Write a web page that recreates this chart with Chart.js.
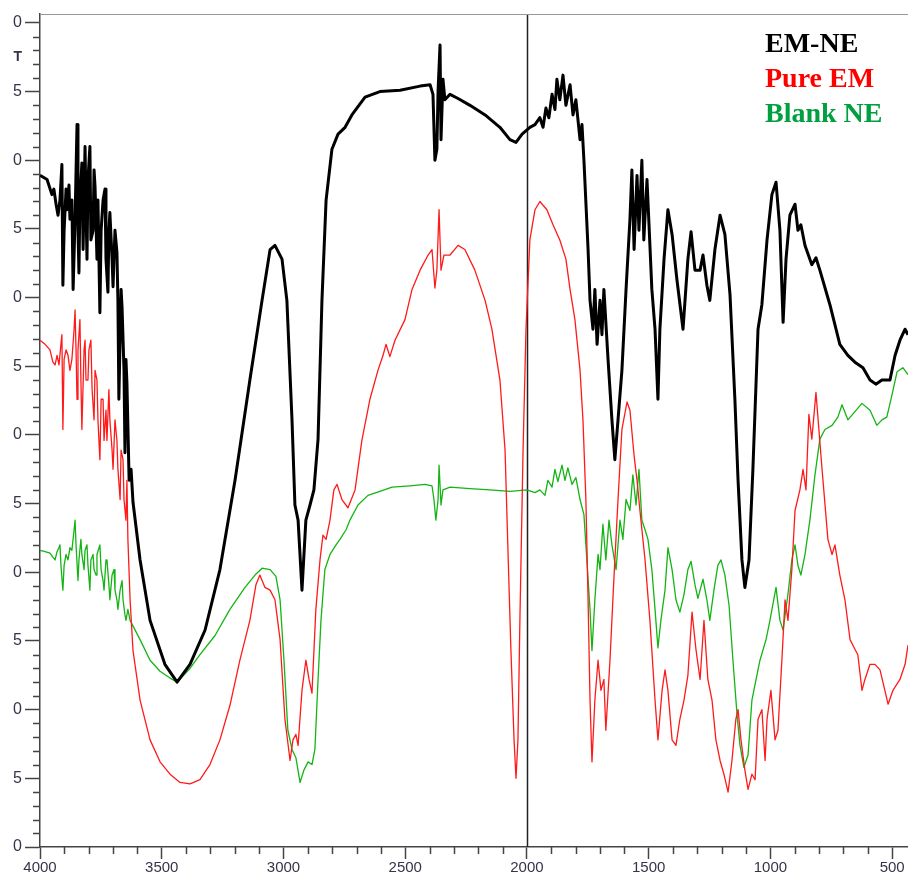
<!DOCTYPE html>
<html>
<head>
<meta charset="utf-8">
<script src="https://cdn.jsdelivr.net/npm/chart.js@4"></script>
<style>
  html, body { margin: 0; padding: 0; background: #fff; }
  #wrap { width: 908px; height: 882px; }
</style>
</head>
<body>
<div id="wrap"><canvas id="ftir" width="908" height="882"></canvas></div>
<script>
// FTIR spectra: wavenumber (cm-1) vs transmittance (%T)

const emneWave = [4000,3971,3951,3943,3934,3926,3918,3910,3906,3901,3893,3889,3881,3877,3869,3864,3856,3848,3844,3840,3836,3828,3823,3815,3811,3807,3803,3795,3791,3782,3778,3774,3766,3762,3754,3749,3741,3733,3729,3721,3717,3713,3704,3700,3692,3684,3680,3676,3667,3663,3655,3651,3647,3643,3634,3626,3618,3589,3548,3487,3437,3384,3322,3261,3199,3138,3088,3055,3035,3006,2986,2965,2953,2940,2924,2908,2891,2875,2858,2842,2825,2801,2776,2747,2719,2665,2604,2521,2439,2398,2386,2378,2370,2365,2357,2353,2345,2337,2316,2283,2234,2172,2111,2070,2045,2020,1988,1967,1947,1934,1922,1910,1897,1885,1877,1865,1852,1840,1823,1811,1799,1782,1774,1766,1749,1741,1729,1721,1712,1700,1692,1684,1667,1651,1639,1626,1610,1593,1577,1569,1560,1548,1540,1528,1520,1507,1495,1487,1474,1462,1454,1437,1421,1404,1384,1359,1339,1326,1310,1289,1277,1261,1249,1228,1207,1187,1166,1146,1133,1117,1105,1088,1072,1051,1035,1014,994,977,961,948,936,920,899,887,875,858,830,813,797,756,715,682,653,620,591,567,542,509,488,468,447,435];
const emneT = [88.9,88.6,87.5,87.9,86.8,86.0,87.1,89.7,80.9,84.9,87.9,86.4,88.2,85.7,87.1,80.6,85.7,92.6,84.9,81.8,87.1,89.8,83.5,91.0,86.4,82.8,88.6,91.0,84.2,84.9,89.3,88.1,82.8,87.1,78.9,84.9,87.1,87.9,82.8,80.4,84.9,86.2,82.8,80.8,84.9,83.3,79.8,72.6,80.6,79.3,74.7,68.7,75.5,73.8,66.7,67.5,65.1,60.9,56.5,53.3,52.0,53.3,55.8,60.2,66.7,74.0,79.8,83.5,83.8,82.8,79.8,71.1,64.9,63.8,58.7,63.8,64.9,66.0,69.7,79.8,87.1,90.8,91.9,92.4,93.3,94.6,95.0,95.1,95.4,95.5,94.8,90.0,90.8,95.1,98.4,91.5,95.9,94.4,94.8,94.5,94.0,93.3,92.4,91.5,91.3,91.9,92.4,92.6,93.1,92.4,93.8,93.1,94.8,93.7,95.9,94.4,96.2,94.0,95.5,93.3,94.4,91.5,92.6,90.0,83.5,79.8,77.7,80.6,76.6,79.8,77.3,80.6,75.5,71.1,68.2,71.1,74.7,80.6,85.7,89.3,83.5,88.9,84.9,90.0,84.2,88.6,83.8,80.6,77.7,72.6,77.7,82.8,86.4,84.6,81.3,77.7,82.8,84.8,82.0,82.0,83.1,80.9,79.8,83.5,86.0,84.6,80.2,72.6,66.7,60.9,58.9,60.9,67.5,77.7,79.5,84.2,87.5,88.4,84.9,78.2,82.8,86.0,86.8,84.9,85.3,83.8,82.4,82.9,82.0,79.5,76.6,75.8,75.3,74.9,74.0,73.7,74.0,74.0,75.8,76.9,77.7,77.3];

const pureWave = [4000,3979,3959,3947,3938,3930,3922,3914,3910,3906,3901,3893,3885,3877,3869,3860,3856,3852,3848,3844,3836,3832,3828,3819,3815,3811,3803,3799,3791,3786,3778,3774,3766,3762,3754,3749,3741,3737,3729,3725,3717,3713,3704,3700,3692,3684,3680,3671,3667,3659,3655,3647,3643,3639,3630,3618,3589,3548,3507,3466,3425,3384,3343,3302,3261,3220,3179,3138,3113,3097,3076,3055,3035,3014,2994,2973,2961,2949,2940,2924,2908,2895,2883,2867,2850,2838,2825,2809,2793,2780,2760,2735,2706,2678,2645,2612,2591,2579,2563,2542,2501,2472,2439,2406,2390,2378,2370,2361,2353,2341,2316,2283,2255,2214,2172,2144,2111,2090,2078,2066,2053,2045,2037,2029,2016,2004,1988,1967,1947,1918,1893,1865,1840,1823,1803,1782,1770,1758,1749,1741,1733,1721,1708,1696,1684,1676,1659,1643,1626,1610,1589,1577,1560,1548,1536,1515,1495,1474,1462,1445,1433,1421,1404,1388,1372,1355,1339,1322,1306,1289,1273,1257,1240,1224,1207,1191,1174,1158,1142,1133,1121,1105,1092,1076,1063,1051,1035,1022,1014,998,981,969,953,940,928,912,899,879,866,854,842,830,813,801,788,764,747,735,715,694,673,653,641,624,612,591,571,550,530,517,497,468,447,435];
const pureT = [76.9,76.6,76.2,75.3,75.1,75.8,75.1,76.6,77.3,70.4,75.5,76.2,75.8,74.7,75.5,77.7,79.1,76.2,72.6,76.2,78.4,74.0,70.4,76.2,76.9,74.0,74.0,76.2,76.9,73.3,71.1,74.7,74.0,71.1,68.2,72.6,72.6,69.6,71.8,69.6,73.3,71.1,68.9,67.5,71.1,69.6,67.5,65.3,68.9,68.2,65.3,63.8,66.7,62.4,58.0,54.3,50.7,47.8,46.2,45.3,44.7,44.6,44.9,46.0,47.8,50.3,53.6,56.5,59.1,59.8,58.9,58.7,58.0,55.1,49.3,46.3,47.8,48.2,47.4,51.4,53.6,52.2,51.2,57.3,60.9,62.7,62.4,63.8,66.0,66.4,65.3,64.7,66.0,69.6,72.6,74.7,75.8,76.6,75.7,76.9,78.4,80.6,82.0,83.1,83.5,80.7,82.0,86.4,82.0,83.1,83.1,83.8,83.5,82.0,79.8,77.7,74.0,68.9,61.6,54.4,47.8,45.0,47.8,56.5,68.9,77.7,84.2,86.4,87.0,86.4,85.3,84.2,82.8,80.6,78.4,74.7,71.1,65.3,58.0,50.7,46.2,50.7,53.6,51.4,52.2,48.5,53.6,59.5,65.3,70.4,72.4,71.8,68.5,66.7,64.5,60.9,56.5,50.7,47.8,51.4,52.9,51.4,47.8,47.4,49.3,50.7,52.5,57.1,54.4,52.2,56.5,52.2,50.7,47.8,46.3,45.3,44.0,46.3,49.3,50.0,47.8,45.6,44.2,45.3,44.9,49.3,50.0,46.3,49.3,51.4,47.8,48.5,53.6,58.0,56.5,60.2,64.5,66.0,67.5,66.0,71.5,69.7,73.1,70.4,67.5,62.4,61.3,62.0,59.8,58.0,55.1,54.4,54.0,51.4,52.2,53.3,53.3,52.9,51.4,50.4,51.4,52.2,53.3,54.7];

const blankWave = [4000,3979,3959,3947,3938,3930,3922,3918,3914,3906,3901,3893,3885,3877,3869,3860,3856,3852,3844,3840,3832,3828,3819,3815,3807,3803,3795,3791,3782,3778,3770,3766,3754,3749,3741,3737,3729,3725,3717,3713,3704,3696,3692,3684,3680,3671,3663,3659,3651,3647,3639,3630,3589,3548,3507,3466,3437,3384,3343,3281,3220,3158,3117,3088,3055,3031,3014,2998,2982,2965,2949,2932,2916,2899,2883,2871,2858,2846,2830,2809,2784,2768,2743,2727,2694,2653,2604,2554,2480,2419,2390,2382,2374,2365,2361,2353,2345,2316,2234,2152,2070,2000,1967,1947,1926,1914,1897,1885,1873,1856,1844,1832,1815,1799,1782,1766,1754,1741,1733,1721,1708,1700,1688,1676,1663,1651,1634,1618,1606,1593,1577,1565,1552,1540,1528,1515,1503,1487,1474,1462,1450,1433,1421,1404,1388,1372,1355,1339,1326,1310,1298,1277,1261,1249,1232,1216,1203,1187,1170,1154,1137,1125,1109,1092,1076,1059,1043,1018,1002,977,961,948,928,912,899,887,875,858,838,817,797,776,747,723,706,682,653,624,591,563,542,522,501,480,456,435];
const blankT = [61.6,61.5,61.4,61.1,60.9,61.5,61.8,62.0,60.5,58.7,60.5,61.3,60.9,61.8,61.6,63.1,63.8,62.0,59.4,60.9,62.4,61.3,60.2,61.6,62.0,60.5,58.7,60.9,61.3,60.2,59.8,61.3,62.0,60.2,59.4,58.7,60.9,60.9,59.1,58.0,59.8,60.2,58.7,58.0,57.3,58.7,59.4,58.0,56.9,56.5,57.3,56.5,55.1,53.6,52.8,52.3,52.0,53.0,54.0,55.4,57.3,58.9,59.8,60.3,60.2,59.7,58.0,53.6,48.5,47.1,46.5,44.7,45.6,46.2,46.0,47.1,52.2,56.5,60.2,61.3,62.0,62.4,63.1,63.8,64.9,65.6,65.9,66.2,66.3,66.4,66.3,65.3,63.8,65.3,67.8,64.9,66.0,66.2,66.1,66.0,65.9,66.0,65.8,66.0,65.6,66.7,66.2,67.5,66.6,67.8,66.7,67.6,66.4,66.9,65.3,64.2,60.9,57.3,54.3,58.0,61.3,60.2,63.5,60.9,63.8,62.0,60.2,63.8,62.4,65.3,64.5,67.1,64.9,67.5,63.8,63.1,62.4,60.2,57.3,54.5,56.5,58.7,61.8,60.2,58.0,57.1,58.4,60.2,60.8,59.1,58.1,59.5,58.0,56.5,58.7,60.5,60.9,59.8,57.6,53.6,49.6,47.4,45.8,46.7,50.7,52.2,53.6,55.1,56.5,58.9,56.5,55.8,58.4,60.9,62.0,60.5,59.8,61.3,63.8,67.1,69.7,70.4,70.7,71.3,72.2,71.1,71.7,72.3,71.8,70.7,71.1,71.3,72.9,74.6,74.9,74.4];

const seriesNames = ['EM-NE', 'Pure EM', 'Blank NE'];
const lineColors = ['#000000', '#ff1a1a', '#14b414'];
const nameColors = ['#000000', '#ff0000', '#00a040'];

const waveRange = [435, 4000];
const transRange = [40, 100.65];
const xMajorStep = 500, xMinorStep = 100;
const yMajorStep = 5, yMinorStep = 1;
const markerWave = 2000;

const toPoints = (w, t) => w.map((v, i) => ({ x: v, y: t[i] }));

// fixed tick values, stepping from the first multiple inside the range
const stepTicks = (lo, hi, step) => {
  const out = [];
  for (let v = Math.ceil(lo / step) * step; v <= hi; v += step) out.push({ value: v });
  return out;
};

const axisInk = '#444';
const labelInk = '#35354a';

// minor ticks, top frame, 2000 cm-1 marker, "T" and the legend text
const decor = {
  id: 'decor',
  beforeDatasetsDraw(chart) {
    const { ctx, chartArea: a, scales: { x } } = chart;
    const px = Math.round(x.getPixelForValue(markerWave)) + 0.5;
    ctx.save();
    ctx.strokeStyle = '#222';
    ctx.lineWidth = 1.5;
    ctx.beginPath();
    ctx.moveTo(px, a.top);
    ctx.lineTo(px, a.bottom);
    ctx.stroke();
    ctx.restore();
  },
  afterDraw(chart) {
    const { ctx, chartArea: a, scales: { x, y } } = chart;
    ctx.save();
    ctx.strokeStyle = '#999';
    ctx.lineWidth = 1;
    ctx.beginPath();
    ctx.moveTo(a.left, a.top + 0.5);
    ctx.lineTo(a.right, a.top + 0.5);
    ctx.stroke();

    ctx.strokeStyle = axisInk;
    ctx.lineWidth = 1.5;
    ctx.beginPath();
    for (let v = transRange[0]; v <= transRange[1]; v += yMinorStep) {
      if (v % yMajorStep === 0) continue;
      const py = Math.round(y.getPixelForValue(v)) + 0.5;
      ctx.moveTo(a.left - 7, py);
      ctx.lineTo(a.left, py);
    }
    for (let w = xMajorStep; w <= waveRange[1]; w += xMinorStep) {
      if (w % xMajorStep === 0) continue;
      const px = Math.round(x.getPixelForValue(w)) + 0.5;
      ctx.moveTo(px, a.bottom);
      ctx.lineTo(px, a.bottom + 7);
    }
    ctx.stroke();

    ctx.fillStyle = labelInk;
    ctx.font = 'bold 14px "Liberation Sans", Arial, sans-serif';
    ctx.textAlign = 'right';
    ctx.textBaseline = 'middle';
    ctx.fillText('T', 22, y.getPixelForValue(97.5));

    ctx.font = 'bold 28px "Liberation Serif", "Times New Roman", serif';
    ctx.textAlign = 'left';
    ctx.textBaseline = 'alphabetic';
    seriesNames.forEach((n, i) => {
      ctx.fillStyle = nameColors[i];
      ctx.fillText(n, 765, 52 + i * 35);
    });
    ctx.restore();
  }
};

new Chart(document.getElementById('ftir'), {
  type: 'line',
  data: {
    datasets: [
      { label: seriesNames[0], data: toPoints(emneWave, emneT), borderColor: lineColors[0], borderWidth: 3 },
      { label: seriesNames[1], data: toPoints(pureWave, pureT), borderColor: lineColors[1], borderWidth: 1.3 },
      { label: seriesNames[2], data: toPoints(blankWave, blankT), borderColor: lineColors[2], borderWidth: 1.3 }
    ]
  },
  options: {
    responsive: false,
    devicePixelRatio: 1,
    animation: false,
    layout: { padding: { top: 14, right: 0, bottom: 0, left: 0 } },
    elements: {
      point: { radius: 0 },
      line: { tension: 0, borderJoinStyle: 'round', fill: false }
    },
    plugins: { legend: { display: false }, tooltip: { enabled: false } },
    scales: {
      x: {
        type: 'linear',
        reverse: true,
        min: waveRange[0],
        max: waveRange[1],
        afterBuildTicks(s) { s.ticks = stepTicks(waveRange[0], waveRange[1], xMajorStep); },
        afterFit(s) { s.height = 35; s.paddingLeft = 0; s.paddingRight = 0; },
        ticks: {
          autoSkip: false,
          maxRotation: 0,
          padding: 0,
          color: labelInk,
          font: { family: '"Liberation Sans", Arial, sans-serif', size: 15 },
          callback: v => String(v)
        },
        grid: { drawOnChartArea: false, tickLength: 12, tickWidth: 1.5, tickColor: axisInk },
        border: { color: axisInk, width: 1.5 }
      },
      y: {
        type: 'linear',
        min: transRange[0],
        max: transRange[1],
        afterBuildTicks(s) { s.ticks = stepTicks(transRange[0], transRange[1], yMajorStep); },
        afterFit(s) { s.width = 40; s.paddingTop = 0; s.paddingBottom = 0; },
        ticks: {
          autoSkip: false,
          padding: 3,
          color: labelInk,
          font: { family: '"Liberation Sans", Arial, sans-serif', size: 16 },
          callback: v => String(Math.round(v) % 10)
        },
        grid: { drawOnChartArea: false, tickLength: 15, tickWidth: 1.5, tickColor: axisInk },
        border: { color: axisInk, width: 1.5 }
      }
    }
  },
  plugins: [decor]
});
</script>
</body>
</html>
